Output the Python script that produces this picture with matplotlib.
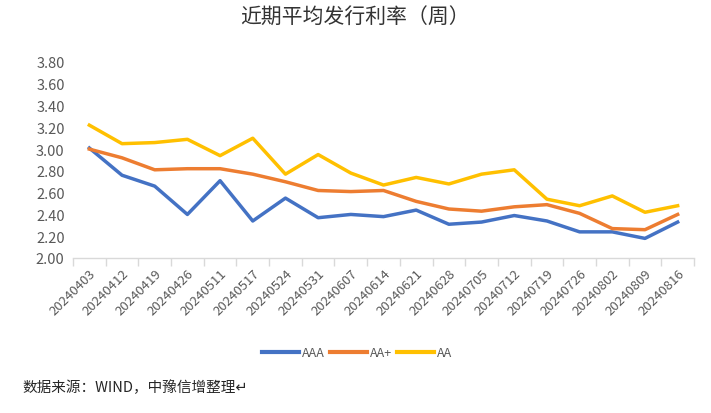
import matplotlib
matplotlib.use("Agg")
import matplotlib.pyplot as plt
from matplotlib.ticker import FixedLocator, MultipleLocator

plt.rcParams['font.family'] = ['Noto Sans CJK SC', 'DejaVu Sans']

dates = ["20240403", "20240412", "20240419", "20240426", "20240511", "20240517",
         "20240524", "20240531", "20240607", "20240614", "20240621", "20240628",
         "20240705", "20240712", "20240719", "20240726", "20240802", "20240809",
         "20240816"]
aaa = [3.01, 2.76, 2.66, 2.40, 2.71, 2.34, 2.55, 2.37, 2.40, 2.38, 2.44, 2.31,
       2.33, 2.39, 2.34, 2.24, 2.24, 2.18, 2.33]
aa_plus = [3.00, 2.92, 2.81, 2.82, 2.82, 2.77, 2.70, 2.62, 2.61, 2.62, 2.52, 2.45,
           2.43, 2.47, 2.49, 2.41, 2.27, 2.26, 2.40]
aa = [3.22, 3.05, 3.06, 3.09, 2.94, 3.10, 2.77, 2.95, 2.78, 2.67, 2.74, 2.68,
      2.77, 2.81, 2.54, 2.48, 2.57, 2.42, 2.48]
series_names = ["AAA", "AA+", "AA"]
colors = ["#4472C4", "#ED7D31", "#FFC000"]
title = "近期平均发行利率（周）"
source = "数据来源：WIND，中豫信增整理↵"

fig = plt.figure(figsize=(7.11, 4.14), dpi=100)
ax = fig.add_axes([73/711, 1-259/414, (694-73)/711, (259-63)/414])

x = list(range(len(dates)))
for vals, name, c in zip([aaa, aa_plus, aa], series_names, colors):
    ax.plot(x, vals, color=c, lw=2.5, label=name, solid_joinstyle='round')

ax.set_xlim(-0.5, len(dates) - 0.5)
ax.set_ylim(2.0, 3.8)
ax.yaxis.set_major_locator(MultipleLocator(0.2))
ax.set_yticklabels([f"{v:.2f}" for v in ax.get_yticks()])
ax.tick_params(axis='y', length=0, labelsize=10.5, labelcolor="#595959", pad=6)

ax.set_xticks(x)
ax.set_xticklabels(dates, rotation=45, ha='right', va='top', rotation_mode='anchor',
                   fontsize=9.5, color="#595959")
ax.tick_params(axis='x', which='major', length=0, pad=6)
ax.xaxis.set_minor_locator(FixedLocator([i - 0.5 for i in range(len(dates) + 1)]))
ax.tick_params(axis='x', which='minor', length=6, color="#D9D9D9", width=1)

for s in ['top', 'right', 'left']:
    ax.spines[s].set_visible(False)
ax.spines['bottom'].set_color("#D9D9D9")
ax.spines['bottom'].set_linewidth(1)

fig.text(355/711, 1-18/414, title, ha='center', va='center', fontsize=15, color="#333333")

fig.legend(loc='center', bbox_to_anchor=(357/711, 1-354/414), ncol=3, frameon=False,
           fontsize=9, handlelength=3.0, handletextpad=0.2, columnspacing=0.4,
           labelcolor="#595959")
for line in fig.legends[0].get_lines():
    line.set_linewidth(3)

fig.text(22/711, 1-388/414, source, ha='left', va='center', fontsize=10.5, color="#262626")

fig.savefig("out.png", dpi=100)
